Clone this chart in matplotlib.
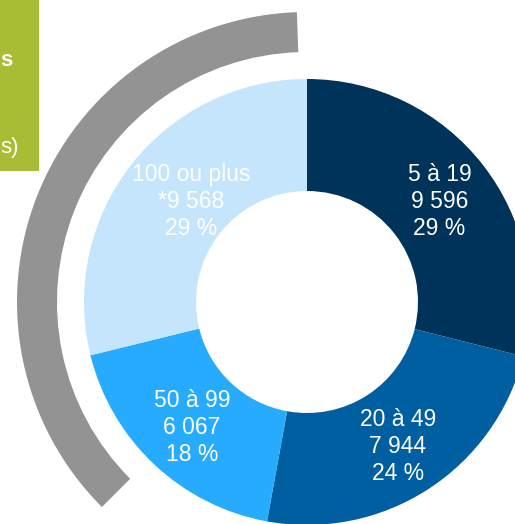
import matplotlib.pyplot as plt
from matplotlib.patches import Wedge, Rectangle
import numpy as np

plt.rcParams['font.family'] = ['Liberation Sans', 'DejaVu Sans']

categories = ["5 à 19", "20 à 49", "50 à 99", "100 ou plus"]
counts = [9596, 7944, 6067, 9568]
count_labels = ["9 596", "7 944", "6 067", "*9 568"]
percents = [29, 24, 18, 29]
colors = ["#003359", "#005FA0", "#27ABFF", "#C5E5FD"]

W, H = 515, 524
fig = plt.figure(figsize=(W / 100, H / 100), dpi=100)
ax = fig.add_axes([0, 0, 1, 1])

cx, cy = 307, H - 302
r_out, r_in = 223, 111

wedges, _ = ax.pie(counts, colors=colors, startangle=90, counterclock=False,
                   radius=r_out, center=(cx, cy),
                   wedgeprops=dict(width=r_out - r_in, linewidth=0))

for w, cat, cl, p in zip(wedges, categories, count_labels, percents):
    mid = np.deg2rad((w.theta1 + w.theta2) / 2)
    rr = 168
    x = cx + rr * np.cos(mid)
    y = cy + rr * np.sin(mid) - 3
    if cat == "100 ou plus":
        x = x + 16
    ax.text(x, y, f"{cat}\n{cl}\n{p} %", ha="center", va="center",
            color="white", fontsize=16.5, linespacing=1.22)

# grey arc around the left side
ax.add_patch(Wedge((cx, cy), 290, 92, 225, width=40, color="#939393", lw=0))

# green title box (cut off at left)
ax.add_patch(Rectangle((0, H - 171), 39, 171, color="#A8BD35", lw=0))
ax.text(0, H - 60, "s", ha="left", va="center", color="white",
        fontsize=16, fontweight="bold")
ax.text(0, H - 147, "s)", ha="left", va="center", color="white",
        fontsize=16)

ax.set_xlim(0, W)
ax.set_ylim(0, H)
ax.set_aspect("auto")
ax.set_axis_off()

fig.savefig("out.png", dpi=100)
